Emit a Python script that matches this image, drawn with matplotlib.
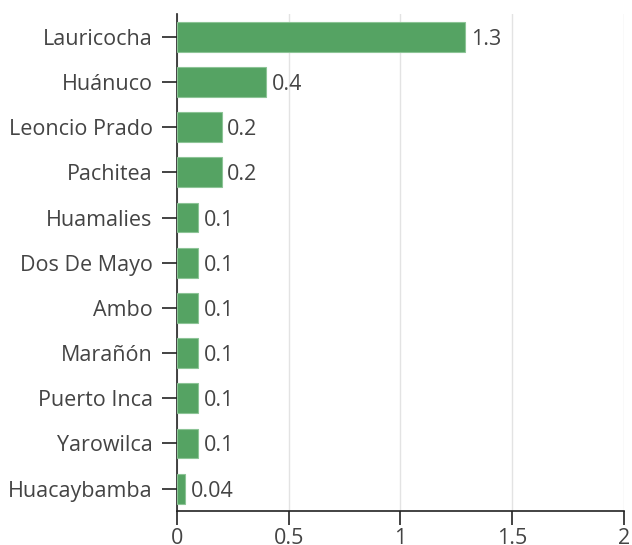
import matplotlib.pyplot as plt

provinces = ["Lauricocha", "Huánuco", "Leoncio Prado", "Pachitea", "Huamalies",
             "Dos De Mayo", "Ambo", "Marañón", "Puerto Inca", "Yarowilca", "Huacaybamba"]
values = [1.29, 0.4, 0.2, 0.2, 0.095, 0.095, 0.095, 0.095, 0.095, 0.095, 0.036]
labels = ["1.3", "0.4", "0.2", "0.2", "0.1", "0.1", "0.1", "0.1", "0.1", "0.1", "0.04"]
x_ticks = [0, 0.5, 1, 1.5, 2]
x_ticklabels = ["0", "0.5", "1", "1.5", "2"]

plt.rcParams["font.family"] = ["Open Sans", "DejaVu Sans"]
text_color = "#444444"
fs = 15.5

fig = plt.figure(figsize=(6.32, 5.45), dpi=100)
ax = fig.add_axes([0.280, 0.062, 0.707, 0.912])

y = list(range(len(provinces)))
ax.barh(y, values, height=0.66, color="#55a363", edgecolor="#8cc496", linewidth=0.8, zorder=3)
for yi, v, lab in zip(y, values, labels):
    ax.text(v + 0.025, yi, lab, va="center_baseline", ha="left", fontsize=fs, color=text_color)

ax.set_ylim(len(provinces) - 0.5, -0.5)
ax.set_xlim(0, 2)
ax.set_yticks(y)
ax.set_yticklabels(provinces)
ax.set_xticks(x_ticks)
ax.set_xticklabels(x_ticklabels)

ax.grid(axis="x", color="#e3e3e3", linewidth=1, zorder=0)
for side in ["top", "right"]:
    ax.spines[side].set_visible(False)
for side in ["left", "bottom"]:
    ax.spines[side].set_color("#222222")
    ax.spines[side].set_linewidth(1.2)

ax.tick_params(axis="y", length=10.5, width=1.2, color="#222222", labelsize=fs,
               labelcolor=text_color, pad=7)
ax.tick_params(axis="x", length=10, width=1.2, color="#222222", labelsize=fs,
               labelcolor=text_color, pad=2)

fig.savefig("out.png", dpi=100)
